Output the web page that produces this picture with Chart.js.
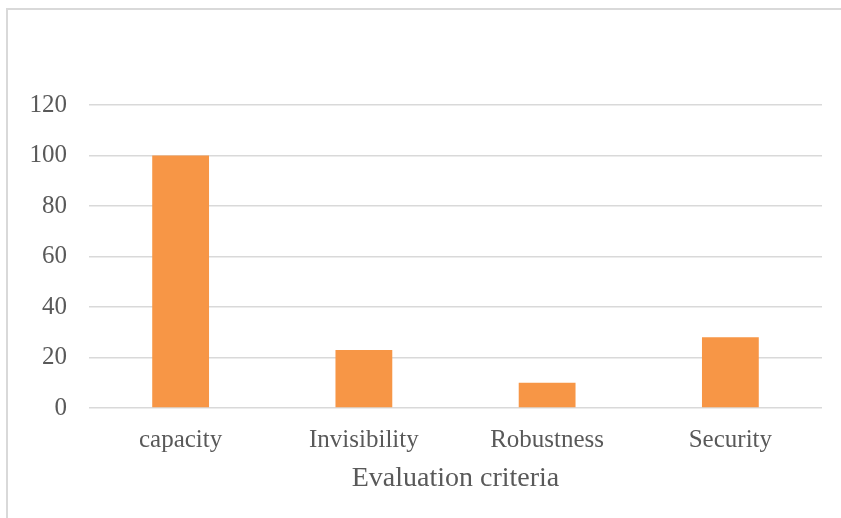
<!DOCTYPE html>
<html>
<head>
<meta charset="utf-8">
<script src="https://cdn.jsdelivr.net/npm/chart.js@4"></script>
<style>
	html, body { margin: 0; padding: 0; background: #ffffff; }
	#frame { position: absolute; left: 6px; top: 8px; width: 860px; height: 530px; border: 2px solid #d9d9d9; box-sizing: border-box; }
	#chart { position: absolute; left: 0; top: 0; }
</style>
</head>
<body>
<div id="frame"></div>
<canvas id="chart" width="841" height="518"></canvas>
<script>
// data
var categories = ["capacity", "Invisibility", "Robustness", "Security"];
var scores = [100, 23, 10, 28];
var yTicks = [0, 20, 40, 60, 80, 100, 120];
var xTitle = "Evaluation criteria";

var textColor = "#595959";
var fontFamily = "'Liberation Serif', 'Times New Roman', serif";

var ctx = document.getElementById("chart");
var myChart = new Chart(ctx, {
	type: "bar",
	data: {
		labels: categories,
		datasets: [{
			data: scores,
			backgroundColor: "#F79646",
			borderWidth: 0,
			barPercentage: 0.31,
			categoryPercentage: 1.0
		}]
	},
	options: {
		responsive: false,
		animation: false,
		layout: { padding: { top: 105, right: 19, left: 0, bottom: 0 } },
		plugins: {
			legend: { display: false },
			tooltip: { enabled: false }
		},
		scales: {
			x: {
				grid: { display: false, drawTicks: false },
				border: { display: false },
				ticks: { color: textColor, font: { family: fontFamily, size: 25 }, padding: 17 },
				title: {
					display: true,
					text: xTitle,
					color: textColor,
					font: { family: fontFamily, size: 28 },
					padding: { top: 0, bottom: 23 }
				},
				afterFit: function(scale){ scale.height = 110; }
			},
			y: {
				min: 0,
				max: 120,
				afterBuildTicks: function(scale){
					scale.ticks = yTicks.map(function(v){ return { value: v }; });
				},
				grid: { color: "#d9d9d9", lineWidth: 1.5, drawTicks: false },
				border: { display: false },
				ticks: { color: textColor, font: { family: fontFamily, size: 25 }, padding: 22 },
				afterFit: function(scale){ scale.width = 89; }
			}
		}
	}
});
</script>
</body>
</html>
